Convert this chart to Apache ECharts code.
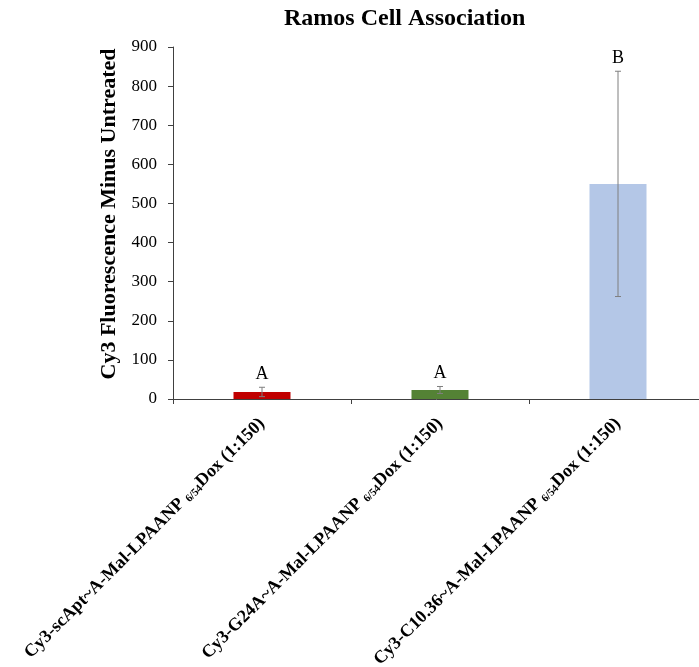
<!DOCTYPE html>
<html><head><meta charset="utf-8">
<script src="https://cdn.jsdelivr.net/npm/echarts@6/dist/echarts.min.js"></script>
<style>html,body{margin:0;padding:0;background:#fff}#c{width:699px;height:667px}</style>
</head><body><div id="c"></div>
<script>
const categoryPre = ['Cy3-scApt~A-Mal-LPAANP ', 'Cy3-G24A~A-Mal-LPAANP ', 'Cy3-C10.36~A-Mal-LPAANP '];
const categorySub = ['6/54', '6/54', '6/54'];
const categoryPost = ['Dox (1:150)', 'Dox (1:150)', 'Dox (1:150)'];
const values = [18, 23, 550];
const errors = [12, 9, 288];
const letters = ['A', 'A', 'B'];
const colors = ['#C00000', '#548235', '#B4C7E7'];
const yTicks = [0, 900, 100];

const categories = categoryPre.map((p, i) => p + '|' + categorySub[i] + '|' + categoryPost[i]);
const serif = '"Liberation Serif", "Times New Roman", serif';
const chart = echarts.init(document.getElementById('c'));
chart.setOption({
  animation: false,
  title: {text: 'Ramos Cell Association', left: 279, top: 2,
    textStyle: {fontFamily: serif, fontSize: 24, fontWeight: 'bold', color: '#000'}},
  grid: {left: 173, top: 47, width: 534, height: 352, outerBoundsMode: 'none', containLabel: false},
  xAxis: {
    type: 'category', data: categories,
    axisLine: {lineStyle: {color: '#404040', width: 1}},
    axisTick: {show: true, alignWithLabel: false, length: 5, lineStyle: {color: '#404040'}},
    axisLabel: {
      rotate: 45, interval: 0, margin: 22,
      formatter: v => { const p = v.split('|'); return '{n|' + p[0] + '}{s|' + p[1] + '}{n|' + p[2] + '}'; },
      rich: {
        n: {fontFamily: serif, fontSize: 18, fontWeight: 'bold', color: '#000'},
        s: {fontFamily: serif, fontSize: 11, fontWeight: 'bold', color: '#000', verticalAlign: 'bottom', padding: [7, 0, 0, 0]}
      }
    }
  },
  yAxis: {
    type: 'value', min: yTicks[0], max: yTicks[1], interval: yTicks[2],
    name: 'Cy3 Fluorescence Minus Untreated', nameLocation: 'middle', nameGap: 46,
    nameTextStyle: {fontFamily: serif, fontSize: 22, fontWeight: 'bold', color: '#000', padding: [0, 0, 0, 18]},
    axisLine: {show: true, lineStyle: {color: '#404040', width: 1}},
    axisTick: {show: true, length: 5, lineStyle: {color: '#404040'}},
    splitLine: {show: false},
    axisLabel: {fontFamily: serif, fontSize: 17, color: '#000', margin: 16}
  },
  series: [
    {type: 'bar', barWidth: 57,
     data: values.map((v, i) => ({value: v, itemStyle: {color: colors[i]}}))},
    {type: 'custom', z: 5,
     data: values.map((v, i) => [i, v - errors[i], v + errors[i], letters[i]]),
     renderItem: (params, api) => {
       const lo = api.coord([api.value(0), api.value(1)]);
       const hi = api.coord([api.value(0), api.value(2)]);
       const x = hi[0], cw = 3;
       const st = {stroke: '#7f7f7f', lineWidth: 1};
       return {type: 'group', children: [
         {type: 'line', shape: {x1: x, y1: hi[1], x2: x, y2: lo[1]}, style: st},
         {type: 'line', shape: {x1: x - cw, y1: hi[1], x2: x + cw, y2: hi[1]}, style: st},
         {type: 'line', shape: {x1: x - cw, y1: lo[1], x2: x + cw, y2: lo[1]}, style: st},
         {type: 'text', style: {text: letters[params.dataIndex], x: x, y: hi[1] - 13,
           align: 'center', verticalAlign: 'middle', fontFamily: serif, fontSize: 18, fill: '#000'}}
       ]};
     }}
  ]
});
</script></body></html>
